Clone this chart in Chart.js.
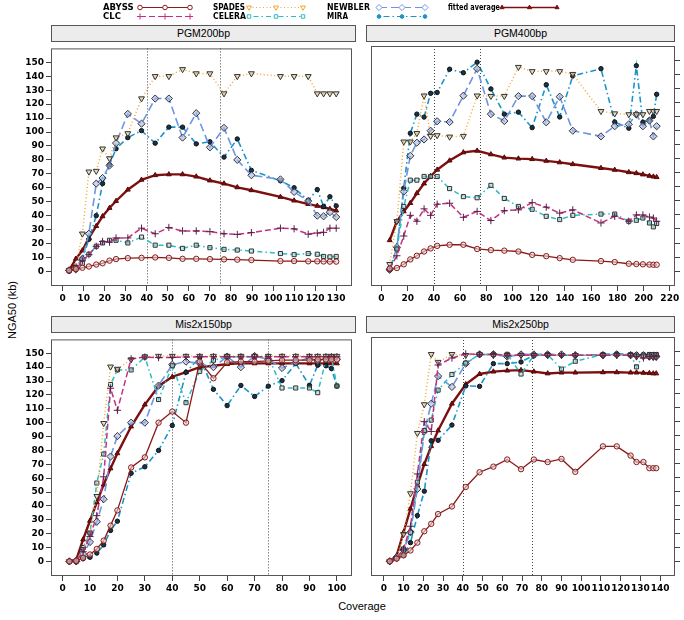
<!DOCTYPE html>
<html lang="en">
<head>
<meta charset="UTF-8">
<title>NGA50 by coverage</title>
<style>
	body { margin: 0; background: #fff; font-family: "Liberation Sans", Arial, sans-serif; }
	#page { position: relative; width: 684px; height: 620px; overflow: hidden; }
	canvas { position: absolute; }
	.strip { position: absolute; box-sizing: border-box; height: 17px; background: #ececec; border: 1px solid #555;
		font-size: 10.5px; line-height: 15px; text-align: center; color: #000; }
	.title { position: absolute; font-size: 11px; color: #000; white-space: nowrap; }
</style>
</head>
<body>
<div id="page">
	<canvas id="legend" width="684" height="24" style="left:0;top:0"></canvas>

	<div class="strip" style="left:51px;top:25px;width:305px">PGM200bp</div>
	<div class="strip" style="left:366px;top:25px;width:309px">PGM400bp</div>
	<div class="strip" style="left:51px;top:316px;width:305px">Mis2x150bp</div>
	<div class="strip" style="left:366px;top:316px;width:309px">Mis2x250bp</div>

	<canvas id="pgm200" width="337" height="264" style="left:20px;top:41px"></canvas>
	<canvas id="pgm400" width="318" height="264" style="left:366px;top:41px"></canvas>
	<canvas id="mis150" width="337" height="263" style="left:20px;top:332px"></canvas>
	<canvas id="mis250" width="318" height="263" style="left:366px;top:332px"></canvas>

	<div class="title" style="left:12px;top:310px;transform:translate(-50%,-50%) rotate(-90deg)">NGA50 (kb)</div>
	<div class="title" style="left:362px;top:606px;transform:translate(-50%,-50%)">Coverage</div>
</div>

<script src="https://cdn.jsdelivr.net/npm/chart.js@4.4.1/dist/chart.umd.min.js"></script>
<script>
// ---- data (NGA50 in kb) ----
const seriesNames = ["ABYSS", "CLC", "SPADES", "CELERA", "NEWBLER", "MIRA", "fitted average"];
const yTicks = [0, 10, 20, 30, 40, 50, 60, 70, 80, 90, 100, 110, 120, 130, 140, 150];
const refLines = [40, 75];

// PGM200bp
const pgm200Cov = [3.1, 6.3, 9.4, 12.5, 16, 19, 22.3, 25.4, 31, 37.5, 44, 50.5, 57, 63.5, 70, 76.7, 83, 89.7, 103.5, 110, 116.7, 121, 124, 127, 130];
const pgm200Abyss = [0.7, 1.6, 2.6, 3.5, 4.9, 5.8, 7.7, 8.8, 9.5, 9.7, 10, 9.7, 9, 9, 8.8, 8.6, 8.4, 8.1, 7.4, 7.4, 7.2, 7.2, 7.1, 7, 7];
const pgm200Clc = [0.7, 1.2, 7.6, 12, 18, 21.5, 21, 24, 24, 31, 27, 31.5, 29, 29, 28.5, 27, 26.5, 27.8, 31, 30.5, 26.7, 27.5, 28, 31, 31];
const pgm200Spades = [0.7, 3, 27, 71.5, 72, 88, 81, 96, 99, 124, 140, 140, 145, 142, 142, 127.6, 140, 142, 140, 140, 140, 127.6, 127.6, 127.6, 127.6];
const pgm200Celera = [0.7, 2.3, 5.8, 12.3, 18, 20.4, 22.3, 22.3, 20.4, 24.6, 18.8, 18.8, 16.5, 18.8, 17, 15.8, 15.3, 14.6, 12.8, 12, 12.8, 12.3, 10.7, 10.4, 10.7];
const pgm200Newbler = [0.7, 3, 9, 27, 63, 67, 76, 92, 113, 106, 124, 124, 96, 113.5, 89, 103, 80, 69, 66, 57, 50.5, 40, 39.5, 42.5, 39];
const pgm200Mira = [0, 1, 9, 23, 40, 63, 76.5, 88, 96, 101, 92, 103.5, 103.5, 91.5, 93, 82, 95, 72.5, 65, 60, 51, 58.7, 46.6, 53.6, 47];
const pgm200Fit = [0.7, 9, 15, 24, 32.5, 39.5, 45.5, 50.5, 58.6, 65.7, 69, 69.6, 69.6, 68, 65.2, 63, 60.3, 58.2, 53.4, 50.8, 48.3, 47, 46, 44.8, 43.6];
const pgm200XTicks = [0, 10, 20, 30, 40, 50, 60, 70, 80, 90, 100, 110, 120, 130];

// PGM400bp
const pgm400Cov = [6.25, 11.75, 17, 22, 27, 32.5, 37.5, 42.5, 52, 62.5, 73, 83.5, 93.75, 104.5, 115, 125.75, 136, 146, 167.5, 178, 188.75, 194.5, 199.5, 204.5, 207.5, 210];
const pgm400Abyss = [1.9, 2.3, 4.9, 8.4, 11, 14, 16.2, 18, 18.8, 18.8, 15.8, 15, 14.6, 14, 11.6, 10.7, 9.3, 8.1, 7.2, 6.5, 5.3, 5.1, 4.9, 4.7, 4.6, 4.6];
const pgm400Clc = [1.6, 11, 25, 39.7, 35.5, 44.3, 39.7, 47.6, 48.3, 38.3, 42.5, 36, 43, 43.6, 48.7, 45.5, 41.3, 43.6, 34.3, 39, 35.5, 40, 40, 38.5, 37.8, 35.5];
const pgm400Spades = [5, 35.5, 92, 92, 98, 124.7, 96, 96.5, 95.5, 96, 124.7, 124.4, 124.4, 145, 142, 142, 142, 140, 113.7, 112, 111.4, 111.4, 111.4, 113.7, 113.7, 113.7];
const pgm400Celera = [1.6, 15.8, 46, 64.7, 64.7, 67.3, 67.3, 67.3, 58.7, 53, 52.2, 61, 51.7, 46, 44, 39, 36.7, 39.7, 40.6, 40.6, 35.5, 36.2, 37.8, 34.3, 31.5, 33.9];
const pgm400Newbler = [1, 17, 56.6, 82, 91.3, 93.6, 99.8, 106.5, 106, 124.7, 143.8, 111.6, 106.7, 124.4, 124.4, 105.8, 124, 99.8, 95.8, 103, 104.4, 111.4, 103, 107, 95.8, 103];
const pgm400Mira = [1, 15.8, 59, 98, 111.6, 109.5, 126.4, 127, 143.5, 141, 148.5, 129.5, 111.6, 113, 102, 132.5, 109.6, 138.7, 143.9, 106, 101.6, 146, 105.8, 107.4, 110, 125.7];
const pgm400Fit = [22, 35.5, 42.5, 48.4, 55.4, 62.3, 67.5, 72.1, 78.6, 84.4, 85.6, 83, 80.7, 80, 79.6, 78.4, 77.3, 76, 73.3, 72, 70.3, 69.6, 68.7, 67.7, 67.2, 66.8];
const pgm400XTicks = [0, 20, 40, 60, 80, 100, 120, 140, 160, 180, 200, 220];

// Mis2x150bp
const mis150Cov = [2.5, 5, 7.5, 10, 12.5, 15, 17.5, 20, 25, 30, 35, 40, 45, 50, 55, 60, 65, 70, 75, 80, 85, 90, 93, 96, 98, 100];
const mis150Abyss = [0, 0.5, 2.5, 5, 9, 15, 25.8, 36.8, 67.7, 75, 100, 108, 100, 144, 132, 143.5, 144, 144, 144.5, 145, 145, 145, 145.5, 145.5, 145.5, 145.5];
const mis150Clc = [0, 0, 7, 18, 33, 61, 124.8, 108.9, 146, 147.3, 146.9, 147, 147.3, 147.5, 147.5, 147.5, 147.5, 147.5, 147.5, 147.5, 147.5, 147.5, 147.5, 147.5, 147.5, 147.5];
const mis150Spades = [0, 0, 8.8, 20, 47, 99.6, 140.3, 138.7, 145.5, 147.6, 148, 148, 148, 148, 148, 148, 148, 148, 148, 148, 148, 148, 148, 148, 148, 148];
const mis150Celera = [0, 0, 10, 20.5, 56.5, 77.4, 127.5, 138, 138, 147.3, 116.7, 141, 114.4, 137, 145, 147.3, 147.5, 147.5, 147.5, 125, 125, 125, 121.6, 145, 147, 126.4];
const mis150Newbler = [0, 0, 5.3, 14, 28.6, 44.9, 75.6, 90.3, 100, 100, 126.7, 141.8, 144, 142.7, 140, 147.6, 140, 148, 145.7, 139.4, 143.4, 146.9, 144.5, 145.7, 146.9, 145.7];
const mis150Mira = [0, 0, 1.9, 3, 6, 11.9, 22.3, 29, 63.5, 68.2, 80, 98, 136.3, 147, 124, 112.3, 126.8, 118.9, 126.3, 130.3, 142.6, 126.8, 141.4, 141, 139, 126.4];
const mis150Fit = [0, 1.2, 15.8, 29.3, 42.6, 55.4, 67, 77.9, 97.2, 113, 126.3, 133, 136.4, 140, 141, 142.2, 142.7, 142.7, 142.7, 142.7, 142.7, 142.7, 142.7, 142.7, 142.7, 142.7];
const mis150XTicks = [0, 10, 20, 30, 40, 50, 60, 70, 80, 90, 100];

// Mis2x250bp
const mis250Cov = [3, 6.5, 10, 13.5, 17, 20.5, 24, 27.5, 34.5, 41.5, 48.5, 55.5, 62.5, 69.5, 76, 83, 90, 97, 111, 118, 125, 128, 131.5, 134.5, 136.5, 138];
const mis250Abyss = [0, 1.9, 4.2, 7.7, 13.3, 21.4, 26.7, 33.7, 39.1, 53, 63.5, 67.5, 72.6, 65.7, 72.6, 70.8, 73, 63.8, 82, 82, 75.4, 70.8, 70.8, 66.4, 66.4, 66.4];
const mis250Clc = [0, 2, 8.8, 25, 62.3, 99.6, 92.6, 140, 145, 148, 147.6, 147.6, 147, 147, 147, 147, 147, 147, 147, 147, 147, 146, 145, 146, 146, 146];
const mis250Spades = [0, 2, 19.3, 48.4, 91.4, 111.9, 147.7, 142.1, 147.7, 147, 147.6, 147, 147, 147, 147, 147, 147, 147, 147, 147, 147, 146, 146, 146, 145.7, 145.7];
const mis250Celera = [0, 2, 8.8, 20.7, 56.4, 93.3, 100.7, 122.1, 133.3, 141.4, 147.6, 147.6, 147.6, 133.6, 147, 147.5, 137.1, 142.7, 147.5, 147.5, 147.5, 138.7, 147, 147.5, 147.5, 147.5];
const mis250Newbler = [0, 3, 8, 20.7, 51.6, 92.6, 112.4, 132.1, 124.4, 141, 147.6, 147.6, 146, 147.6, 147.6, 147.6, 147.6, 147, 147, 147.6, 147, 147, 147, 146, 146, 146];
const mis250Mira = [0, 2, 4.2, 13.3, 32.6, 50, 86, 86.3, 97.2, 125.1, 124.8, 141, 141, 142.2, 146.9, 147, 147, 147, 147.5, 148, 147.5, 147.5, 147.5, 147.5, 147.5, 147.5];
const mis250Fit = [0, 4, 20.7, 37.5, 54.2, 69.3, 82.1, 93.3, 112.4, 126.3, 133.6, 135.3, 136, 136.4, 135.3, 134, 134.6, 134.6, 134.8, 134.8, 134.6, 134.6, 134.4, 134.2, 134, 134];
const mis250XTicks = [0, 10, 20, 30, 40, 50, 60, 70, 80, 90, 100, 110, 120, 130, 140];

// ---- styles ----
const styles = [
	{ line: "#8b1a1a", dash: [], width: 1.3, point: "circle", rot: 0, r: 2.7, edge: "#8b1a1a", fill: "rgba(225,215,215,0.6)", key: "#8b1a1a", keyFill: "#fff" },
	{ line: "#c2307f", dash: [6, 3], width: 1.5, point: "cross", rot: 0, r: 3.6, edge: "#5a1d4a", fill: "#5a1d4a", key: "#c2307f", keyFill: "#fff" },
	{ line: "#f0a830", dash: [1, 2.5], width: 1.5, point: "triangle", rot: 180, r: 3.4, edge: "#333", fill: "rgba(215,200,160,0.6)", key: "#f0a830", keyFill: "#fff" },
	{ line: "#2cbcc4", dash: [1.5, 3, 5, 3], width: 1.5, point: "rect", rot: 0, r: 2.9, edge: "#333", fill: "rgba(150,205,205,0.5)", key: "#2cbcc4", keyFill: "#fff" },
	{ line: "#6f95e0", dash: [8, 4], width: 1.6, point: "rectRot", rot: 0, r: 3.6, edge: "#333", fill: "rgba(165,185,230,0.6)", key: "#6f95e0", keyFill: "#fff" },
	{ line: "#1c95c6", dash: [1.5, 3, 6, 3], width: 1.6, point: "circle", rot: 0, r: 2.2, edge: "#111", fill: "#17324a", key: "#1c95c6", keyFill: "#1c95c6" },
	{ line: "#7c1010", dash: [], width: 2.4, point: "triangle", rot: 0, r: 2.8, edge: "#5a0808", fill: "#7c1010", key: "#7c1010", keyFill: "#7c1010" }
];

const framePlugin = {
	id: "frame",
	beforeDatasetsDraw(chart) {
		const { ctx, chartArea: a } = chart;
		const x = chart.scales.x;
		ctx.save();
		ctx.strokeStyle = "#444";
		ctx.lineWidth = 1;
		ctx.setLineDash([1, 2]);
		refLines.forEach(v => {
			const px = Math.round(x.getPixelForValue(v)) + 0.5;
			ctx.beginPath();
			ctx.moveTo(px, a.top);
			ctx.lineTo(px, a.bottom);
			ctx.stroke();
		});
		ctx.restore();
	},
	afterDraw(chart) {
		const { ctx, chartArea: a } = chart;
		ctx.save();
		ctx.strokeStyle = "#555";
		ctx.lineWidth = 1;
		ctx.strokeRect(a.left + 0.5, a.top + 0.5, a.right - a.left - 1, a.bottom - a.top - 1);
		ctx.restore();
	}
};

const tickFont = { family: "DejaVu Sans", size: 9, weight: "bold" };

function makePanel(id, cov, values, xMin, xMax, xTicks, yLeft) {
	const datasets = values.map((vals, i) => {
		const s = styles[i];
		return {
			label: seriesNames[i],
			data: vals.map((v, k) => ({ x: cov[k], y: v })),
			borderColor: s.line,
			borderWidth: s.width,
			borderDash: s.dash,
			pointStyle: s.point,
			pointRotation: s.rot,
			pointRadius: s.r,
			pointBorderColor: s.edge,
			pointBackgroundColor: s.fill,
			pointBorderWidth: 1,
			tension: 0,
			fill: false
		};
	});
	new Chart(id, {
		type: "line",
		data: { datasets: datasets },
		options: {
			responsive: false,
			devicePixelRatio: 1,
			animation: false,
			events: [],
			layout: { padding: { left: 0, right: yLeft ? 2 : 0, top: 0, bottom: 0 } },
			plugins: { legend: { display: false }, tooltip: { enabled: false } },
			scales: {
				x: {
					type: "linear",
					min: xMin,
					max: xMax,
					afterBuildTicks: s => { s.ticks = xTicks.map(v => ({ value: v })); },
					afterFit: s => { s.height = 19; },
					ticks: { font: tickFont, color: "#000", padding: 2, maxRotation: 0, autoSkip: false },
					grid: { drawOnChartArea: false, drawTicks: true, tickLength: 5, color: "#444" },
					border: { display: false }
				},
				y: {
					type: "linear",
					position: yLeft ? "left" : "right",
					min: -10.5,
					max: 160,
					afterBuildTicks: s => { s.ticks = yTicks.map(v => ({ value: v })); },
					afterFit: s => { s.width = yLeft ? 31 : 9; },
					ticks: { display: yLeft, font: tickFont, color: "#000", padding: 2, autoSkip: false },
					grid: { drawOnChartArea: false, drawTicks: true, tickLength: 5, color: "#444" },
					border: { display: false }
				}
			}
		},
		plugins: [framePlugin]
	});
}

makePanel("pgm200", pgm200Cov,
	[pgm200Abyss, pgm200Clc, pgm200Spades, pgm200Celera, pgm200Newbler, pgm200Mira, pgm200Fit],
	-5.5, 137.5, pgm200XTicks, true);
makePanel("pgm400", pgm400Cov,
	[pgm400Abyss, pgm400Clc, pgm400Spades, pgm400Celera, pgm400Newbler, pgm400Mira, pgm400Fit],
	-8, 224, pgm400XTicks, false);
makePanel("mis150", mis150Cov,
	[mis150Abyss, mis150Clc, mis150Spades, mis150Celera, mis150Newbler, mis150Mira, mis150Fit],
	-4.2, 105.5, mis150XTicks, true);
makePanel("mis250", mis250Cov,
	[mis250Abyss, mis250Clc, mis250Spades, mis250Celera, mis250Newbler, mis250Mira, mis250Fit],
	-6.5, 147.5, mis250XTicks, false);

// ---- key at the top ----
const keySpots = [
	{ tx: 103, y: 7, x0: 140, x1: 190, w: 31 },
	{ tx: 103, y: 16, x0: 140, x1: 190, w: 18 },
	{ tx: 213, y: 7, x0: 249, x1: 303, w: 32 },
	{ tx: 213, y: 16, x0: 249, x1: 303, w: 33 },
	{ tx: 327, y: 7, x0: 379, x1: 425, w: 43 },
	{ tx: 327, y: 16, x0: 379, x1: 425, w: 21 },
	{ tx: 448, y: 7, x0: 502, x1: 557, w: 52 }
];

const lg = document.getElementById("legend").getContext("2d");
keySpots.forEach((k, i) => {
	const s = styles[i];
	lg.font = "bold 8.5px 'DejaVu Sans'";
	lg.fillStyle = "#000";
	lg.textBaseline = "middle";
	lg.fillText(seriesNames[i], k.tx, k.y + 0.5, k.w);
	lg.strokeStyle = s.key;
	lg.lineWidth = i === 6 ? 1.6 : 1.2;
	lg.setLineDash(s.dash);
	lg.beginPath();
	lg.moveTo(k.x0, k.y + 0.5);
	lg.lineTo(k.x1, k.y + 0.5);
	lg.stroke();
	lg.setLineDash([]);
	const xm = (k.x0 + k.x1) / 2;
	[k.x0, xm, k.x1].forEach(px => {
		lg.strokeStyle = s.key;
		lg.fillStyle = s.keyFill;
		lg.lineWidth = 1;
		Chart.helpers.drawPoint(lg, {
			pointStyle: s.point, rotation: s.rot, radius: s.r * 0.85, borderWidth: 1
		}, px, k.y + 0.5);
	});
});
</script>
</body>
</html>
